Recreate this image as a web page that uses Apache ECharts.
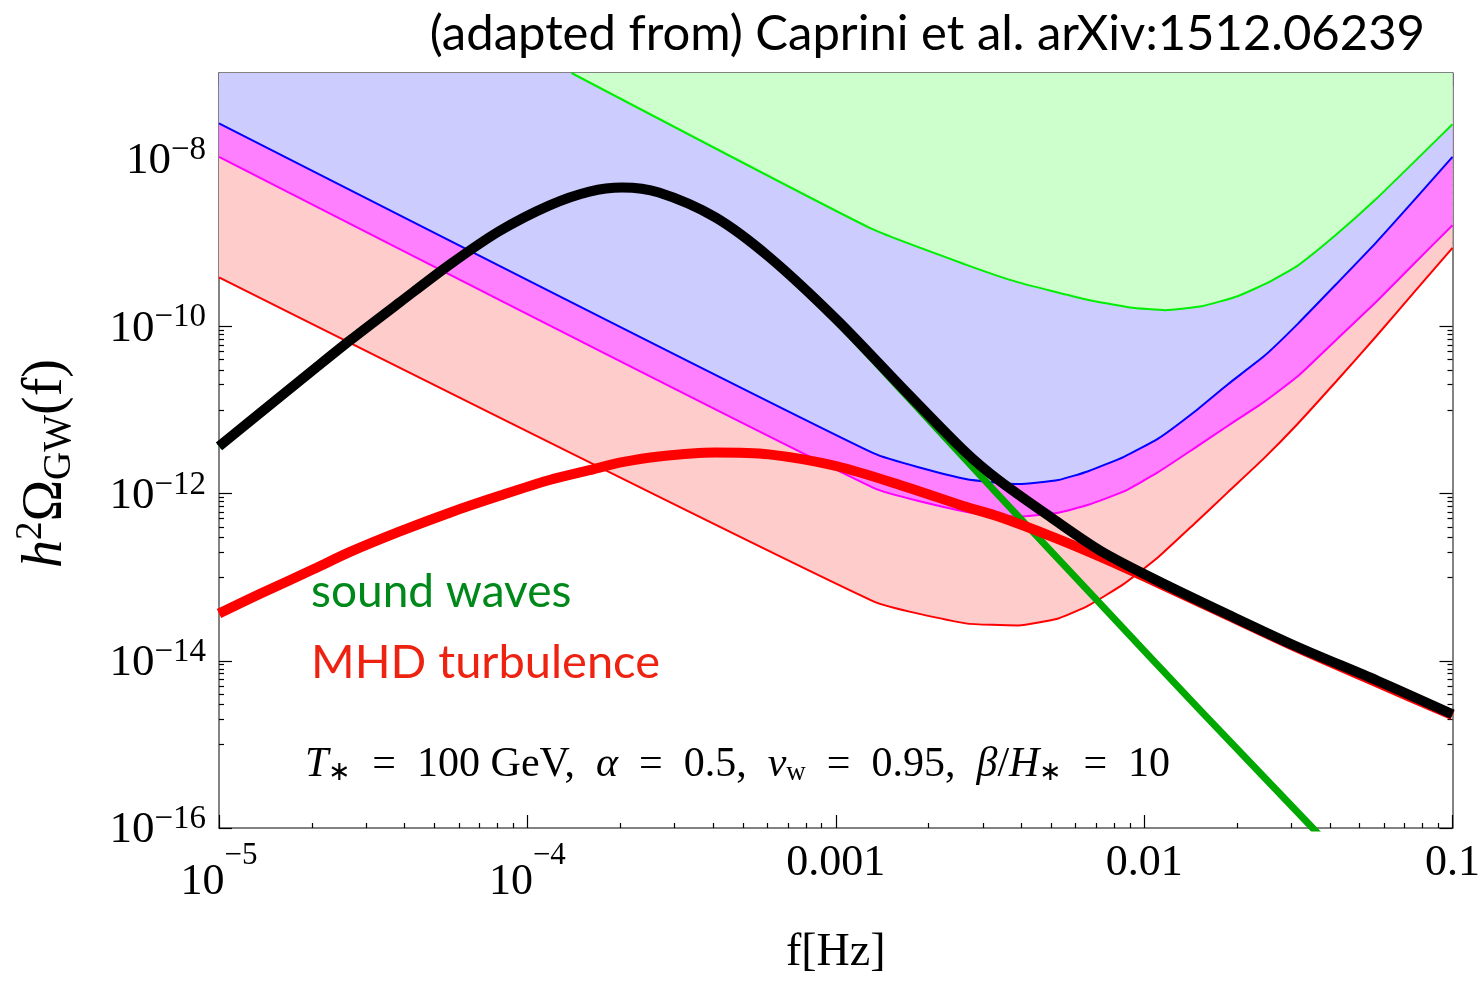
<!DOCTYPE html>
<html>
<head>
<meta charset="utf-8">
<title>LISA sensitivity and first-order phase transition GW spectrum</title>
<script src="https://cdn.jsdelivr.net/npm/echarts@6/dist/echarts.min.js"></script>
<style>
  html, body { margin: 0; padding: 0; background: #ffffff; }
  #chart { width: 1483px; height: 981px; }
</style>
</head>
<body>
<div id="chart"></div>
<script>
// ---- Sensitivity curves (power-law integrated), frequency in Hz ----
const sensFreq = [1e-5, 1.33e-3, 2.64e-3, 3.91e-3, 5.27e-3, 6.59e-3, 8.6e-3, 1.11e-2, 1.45e-2, 1.87e-2, 2.45e-2,
                  3.15e-2, 4.2e-2, 5.64e-2, 7.5e-2, 0.1];
const sensRed     = [3.84e-10, 5.09e-14, 2.80e-14, 2.65e-14, 3.21e-14, 4.57e-14, 8.3e-14, 1.73e-13, 4.3e-13, 1.04e-12, 2.65e-12,
                     6.84e-12, 2.2e-11, 7.5e-11, 2.55e-10, 8.69e-10];
const sensMagenta = [1.06e-8, 1.16e-12, 6.07e-13, 5.28e-13, 5.9e-13, 7.33e-13, 1.06e-12, 1.80e-12, 3.45e-12, 6.47e-12, 1.25e-11,
                     2.52e-11, 6.9e-11, 1.94e-10, 5.6e-10, 1.62e-9];
const sensBlue    = [2.68e-8, 3.02e-12, 1.49e-12, 1.30e-12, 1.45e-12, 1.85e-12, 2.75e-12, 4.54e-12, 9.4e-12, 2.03e-11, 4.4e-11,
                     1.07e-10, 3.2e-10, 9.95e-10, 3.2e-9, 1.06e-8];

const sensGreenFreq = [1.39e-4, 1.31e-3, 2.64e-3, 3.91e-3, 6.44e-3, 9.0e-3, 1.17e-2, 1.55e-2, 2.01e-2, 2.55e-2,
                       3.15e-2, 4.2e-2, 5.64e-2, 7.5e-2, 0.1];
const sensGreen     = [1.07e-7, 1.46e-9, 5.47e-10, 3.35e-10, 2.11e-10, 1.68e-10, 1.56e-10, 1.75e-10, 2.29e-10, 3.4e-10,
                       5.32e-10, 1.25e-9, 3.30e-9, 9.2e-9, 2.61e-8];

// ---- Signal: total spectrum and MHD turbulence contribution ----
const signalFreq = [1e-5, 1.36e-5, 2.03e-5, 2.65e-5, 3.86e-5, 5.6e-5, 8.12e-5, 1.18e-4, 1.59e-4, 2.03e-4,
                    2.67e-4, 4.06e-4, 6.07e-4, 1.01e-3, 1.69e-3, 2.64e-3, 3.37e-3, 5.0e-3, 7.26e-3, 1.11e-2,
                    1.87e-2, 3.15e-2, 5.71e-2, 0.1];
const totalOmega = [3.66e-12, 9.22e-12, 3.05e-11, 6.71e-11, 1.94e-10, 5.47e-10, 1.38e-9, 2.80e-9, 4.09e-9, 4.57e-9,
                    3.98e-9, 2.02e-9, 6.79e-10, 1.19e-10, 1.65e-11, 3.10e-12, 1.45e-12, 5.15e-13, 2.04e-13, 9.0e-14,
                    3.57e-14, 1.46e-14, 5.77e-15, 2.29e-15];
const turbOmega  = [3.67e-14, 6.32e-14, 1.25e-13, 1.99e-13, 3.52e-13, 5.9e-13, 9.38e-13, 1.45e-12, 1.90e-12, 2.37e-12,
                    2.78e-12, 3.1e-12, 2.94e-12, 2.12e-12, 1.20e-12, 6.95e-13, 5.3e-13, 3.07e-13, 1.73e-13, 8.53e-14,
                    3.48e-14, 1.42e-14, 5.47e-15, 2.23e-15];

// ---- Sound-wave contribution ----
const swFreq  = [1e-5, 1.36e-5, 2.03e-5, 2.65e-5, 3.86e-5, 5.6e-5, 8.12e-5, 1.18e-4, 1.59e-4, 2.03e-4,
                 2.67e-4, 4.06e-4, 6.07e-4, 1.01e-3, 1.69e-3, 3.37e-3, 7.1e-3, 1.50e-2, 3.52e-2, 6.64e-2];
const swOmega = [3.62e-12, 9.15e-12, 3.03e-11, 6.68e-11, 1.93e-10, 5.45e-10, 1.38e-9, 2.80e-9, 4.09e-9, 4.57e-9,
                 3.98e-9, 2.02e-9, 6.76e-10, 1.13e-10, 1.50e-11, 9.6e-13, 5.09e-14, 2.69e-15, 1.0e-16, 8.2e-18];

// ---- Axis ticks and labels ----
const xMajorTicks = [1e-5, 1e-4, 1e-3, 1e-2, 1e-1];
const xTickLabels = [['10', '\u22125'], ['10', '\u22124'], ['0.001'], ['0.01'], ['0.1']];
const yMajorTicks = [1e-16, 1e-14, 1e-12, 1e-10, 1e-8];
const yTickLabels = [['10', '\u221216'], ['10', '\u221214'], ['10', '\u221212'], ['10', '\u221210'], ['10', '\u22128']];

const X_MIN = 1e-5, X_MAX = 0.1;
const Y_MIN = 1e-16, Y_MAX = 1.07e-7;

// minor ticks: 2..9 within every decade on x; 1..9 within the decade below each labelled decade on y
const xMinorTicks = [];
for (let e = -5; e < -1; e++) for (let k = 2; k <= 9; k++) xMinorTicks.push(k * Math.pow(10, e));
const yMinorTicks = [];
for (const t of yMajorTicks) {
  const lower = t / 10;
  if (lower < Y_MIN) continue;
  for (let k = 1; k <= 9; k++) yMinorTicks.push(k * lower);
}

const SERIF = '"Liberation Serif", "Times New Roman", serif';
const SANS = 'Lato, "Open Sans", sans-serif';

function sameDecade(a, b) { return Math.abs(Math.log10(a) - Math.log10(b)) < 1e-6; }
function richLabel(parts) {
  return parts.length === 2 ? '{b|' + parts[0] + '}{s|' + parts[1] + '}' : '{p|' + parts[0] + '}';
}
function labelFormatter(ticks, labels) {
  return function (v) {
    const i = ticks.findIndex(t => sameDecade(t, v));
    return i < 0 ? '' : richLabel(labels[i]);
  };
}

const frameLine = { show: true, onZero: false, lineStyle: { color: '#5a5a5a', width: 1.5 } };
const noLine = { show: false, onZero: false };

function tickAxis(dir, position, ticks, len, withLine) {
  return {
    type: 'log', logBase: 10, position: position,
    min: dir === 'x' ? X_MIN : Y_MIN, max: dir === 'x' ? X_MAX : Y_MAX,
    axisLine: withLine ? frameLine : noLine,
    axisTick: { show: true, inside: true, length: len, customValues: ticks,
                lineStyle: { color: '#000000', width: 1.2 } },
    axisLabel: { show: false },
    splitLine: { show: false },
    minorTick: { show: false },
    silent: true
  };
}

const xMain = tickAxis('x', 'bottom', xMajorTicks, 13, true);
xMain.axisLabel = {
  show: true, customValues: xMajorTicks, margin: 12,
  formatter: labelFormatter(xMajorTicks, xTickLabels),
  rich: {
    b: { fontFamily: SERIF, fontSize: 44, lineHeight: 64, verticalAlign: 'bottom', color: '#000' },
    s: { fontFamily: SERIF, fontSize: 31, lineHeight: 30, verticalAlign: 'top', color: '#000' },
    p: { fontFamily: SERIF, fontSize: 44, lineHeight: 46, color: '#000' }
  }
};
xMain.name = 'f[Hz]';
xMain.nameLocation = 'middle';
xMain.nameGap = 102;
xMain.nameTextStyle = { fontFamily: SERIF, fontSize: 46, color: '#000' };

const yMain = tickAxis('y', 'left', yMajorTicks, 13, true);
yMain.axisLabel = {
  show: true, customValues: yMajorTicks, margin: 13,
  formatter: labelFormatter(yMajorTicks, yTickLabels),
  rich: {
    b: { fontFamily: SERIF, fontSize: 45, lineHeight: 50, verticalAlign: 'bottom', color: '#000' },
    s: { fontFamily: SERIF, fontSize: 33, lineHeight: 30, verticalAlign: 'top', color: '#000' },
    p: { fontFamily: SERIF, fontSize: 45, lineHeight: 46, color: '#000' }
  }
};
yMain.name = '{i|h}{sup|2}{n|\u03A9}{sub|GW}{n|(f)}';
yMain.nameLocation = 'middle';
yMain.nameRotate = 90;
yMain.nameGap = 140;
yMain.nameTextStyle = {
  padding: [0, 26, 0, 0],
  rich: {
    i: { fontFamily: SERIF, fontStyle: 'italic', fontSize: 56, lineHeight: 66, verticalAlign: 'middle', color: '#000' },
    n: { fontFamily: SERIF, fontSize: 56, lineHeight: 66, verticalAlign: 'middle', color: '#000' },
    sup: { fontFamily: SERIF, fontSize: 37, lineHeight: 36, verticalAlign: 'top', color: '#000' },
    sub: { fontFamily: SERIF, fontSize: 39, lineHeight: 40, verticalAlign: 'bottom', color: '#000' }
  }
};

const xAxes = [
  xMain,
  tickAxis('x', 'bottom', xMinorTicks, 5, false),
  tickAxis('x', 'top', xMajorTicks, 13, true),
  tickAxis('x', 'top', xMinorTicks, 5, false)
];
const yAxes = [
  yMain,
  tickAxis('y', 'left', yMinorTicks, 5, false),
  tickAxis('y', 'right', yMajorTicks, 13, true),
  tickAxis('y', 'right', yMinorTicks, 5, false)
];

function pairs(freq, vals) { return freq.map((f, i) => [f, vals[i]]); }

// band: a sensitivity curve whose colour fills everything above it; later bands paint over earlier ones
function band(name, freq, vals, lineColor, fillColor) {
  return {
    type: 'line', name: name, xAxisIndex: 0, yAxisIndex: 0,
    data: pairs(freq, vals), symbol: 'none', smooth: 0.15, clip: true,
    lineStyle: { color: lineColor, width: 2 },
    areaStyle: { color: fillColor, opacity: 1, origin: 'end' },
    silent: true
  };
}
function curve(name, freq, vals, color, width) {
  return {
    type: 'line', name: name, xAxisIndex: 0, yAxisIndex: 0,
    data: pairs(freq, vals), symbol: 'none', smooth: 0.3, clip: true,
    lineStyle: { color: color, width: width, cap: 'butt', join: 'round' },
    silent: true
  };
}

const chart = echarts.init(document.getElementById('chart'), null, { renderer: 'canvas' });
chart.setOption({
  animation: false,
  backgroundColor: '#ffffff',
  grid: { left: 219, top: 73, width: 1236, height: 764, containLabel: false },
  xAxis: xAxes,
  yAxis: yAxes,
  series: [
    band('C4', sensFreq, sensRed, '#ff0000', '#ffcccc'),
    band('C3', sensFreq, sensMagenta, '#ff00ff', '#ff80ff'),
    band('C2', sensFreq, sensBlue, '#0000ff', '#ccccff'),
    band('C1', sensGreenFreq, sensGreen, '#00ee00', '#ccffcc'),
    curve('sound waves', swFreq, swOmega, '#00a800', 7),
    curve('MHD turbulence', signalFreq, turbOmega, '#ff0000', 10),
    curve('total', signalFreq, totalOmega, '#000000', 10)
  ],
  graphic: [
    { type: 'text', x: 1425, y: 34, silent: true,
      style: { text: '(adapted from) Caprini et al. arXiv:1512.06239', font: '49px ' + SANS,
               fill: '#000', align: 'right', verticalAlign: 'middle' } },
    { type: 'text', x: 311, y: 592, silent: true,
      style: { text: 'sound waves', font: '46px ' + SANS, fill: '#00891a', align: 'left', verticalAlign: 'middle' } },
    { type: 'text', x: 311, y: 663, silent: true,
      style: { text: 'MHD turbulence', font: '47px ' + SANS, fill: '#ee2211', align: 'left', verticalAlign: 'middle' } },
    { type: 'text', x: 305, y: 762, silent: true,
      style: {
        text: '{i|T}{sub|\u2217}{n|\u00A0 = \u00A0100 GeV, \u00A0}{i|\u03B1}{n|\u00A0 = \u00A00.5, \u00A0}{i|v}{sub|w}{n|\u00A0 = \u00A00.95, \u00A0}{i|\u03B2}{n|/}{i|H}{sub|\u2217}{n|\u00A0 = \u00A010}',
        align: 'left', verticalAlign: 'middle',
        rich: {
          i: { fontFamily: SERIF, fontStyle: 'italic', fontSize: 42, lineHeight: 48, verticalAlign: 'bottom', fill: '#000' },
          n: { fontFamily: SERIF, fontSize: 42, lineHeight: 48, verticalAlign: 'bottom', fill: '#000' },
          sub: { fontFamily: SERIF, fontSize: 27, lineHeight: 18, verticalAlign: 'bottom', fill: '#000' }
        }
      } }
  ]
});
</script>
</body>
</html>
